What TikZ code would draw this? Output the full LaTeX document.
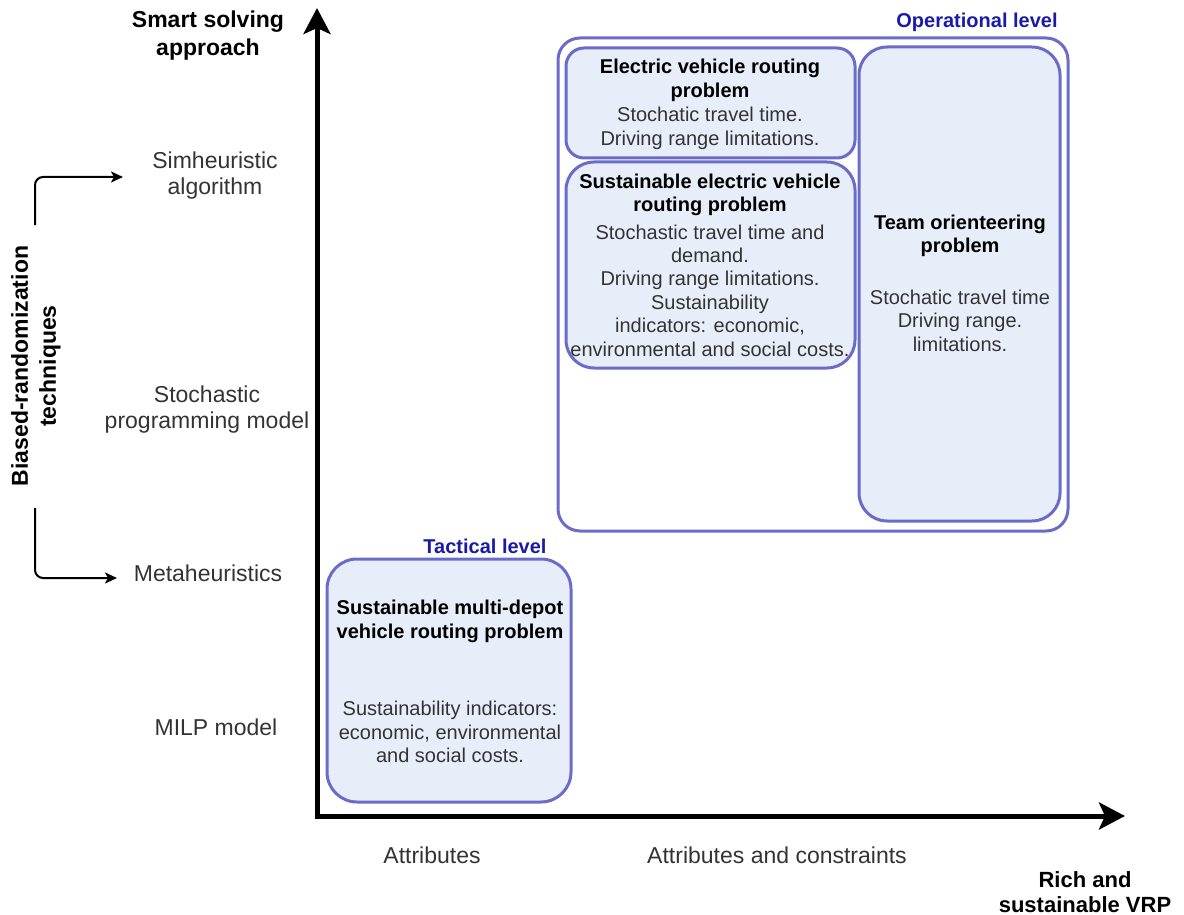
\documentclass[tikz,border=0pt]{standalone}
\usepackage{fontspec}
\setmainfont{Liberation Sans}
\usetikzlibrary{arrows.meta}
\definecolor{boxline}{HTML}{6B6BC8}
\definecolor{boxfill}{HTML}{E7EEFA}
\definecolor{levelblue}{HTML}{1A1AA8}
\definecolor{bodygray}{HTML}{333333}
\tikzset{
  probbox/.style={draw=boxline, line width=1.5pt, fill=boxfill, inner sep=0pt},
  groupbox/.style={draw=boxline, line width=1.5pt, fill=white, inner sep=0pt},
  ttl/.style={font=\fontsize{10pt}{11.7pt}\selectfont\bfseries, align=center, inner sep=0pt, text=black},
  body/.style={font=\fontsize{10pt}{11.7pt}\selectfont, align=center, inner sep=0pt, text=bodygray},
  axlabel/.style={font=\fontsize{11.5pt}{13pt}\selectfont, align=center, inner sep=0pt, text=bodygray},
  axtitle/.style={font=\fontsize{11.5pt}{14pt}\selectfont\bfseries, align=center, inner sep=0pt, text=black},
  level/.style={font=\fontsize{10pt}{12pt}\selectfont\bfseries, inner sep=0pt, text=levelblue},
  axis/.style={line width=2.5pt, {Stealth[length=13pt,width=13.5pt,inset=3pt]}-{Stealth[length=13pt,width=13.5pt,inset=3pt]}},
  bracket/.style={line width=1pt, rounded corners=4pt, -{Stealth[length=6pt,width=5.5pt,inset=1.5pt]}}
}
\begin{document}
\begin{tikzpicture}[x=0.5pt, y=-0.5pt]
\useasboundingbox (0,0) rectangle (1184,915);

% axes
\coordinate (ytip) at (317,8);
\coordinate (xtip) at (1125,816);
\draw[axis] (ytip) |- (xtip);

% operational level group
\node[groupbox, rounded corners=11pt, minimum width=255pt, minimum height=246.5pt] (oper) at (813,284.5) {};
\node[level, anchor=east] (operlbl) at (1058,22) {Operational level};

% electric vehicle routing problem
\node[probbox, rounded corners=9pt, minimum width=144.5pt, minimum height=55pt] (evrp) at (710.5,103) {};
\node[ttl] (evrpT) at (710,80.5) {Electric vehicle routing\\problem};
\node[body] (evrpB) at (710,128.5) {Stochatic travel time.\\Driving range limitations.};

% sustainable electric vehicle routing problem
\node[probbox, rounded corners=14pt, minimum width=144.5pt, minimum height=103pt] (sevrp) at (710.5,265) {};
\node[ttl] (sevrpT) at (710,195) {Sustainable electric vehicle\\routing problem};
\node[body] (sevrpB) at (710,290.5) {Stochastic travel time and\\demand.\\Driving range limitations.\\Sustainability\\indicators: economic,\\environmental and social costs.};

% team orienteering problem
\node[probbox, rounded corners=14pt, minimum width=100.5pt, minimum height=237pt] (top) at (959.5,284) {};
\node[ttl] (topT) at (960,236) {Team orienteering\\problem};
\node[body] (topB) at (960,320.5) {Stochatic travel time\\Driving range.\\limitations.};

% tactical level
\node[level] (taclbl) at (485,546) {Tactical level};
\node[probbox, rounded corners=15pt, minimum width=122pt, minimum height=121.5pt] (sm) at (449,680.5) {};
\node[ttl] (smT) at (450,621.5) {Sustainable multi-depot\\vehicle routing problem};
\node[body] (smB) at (450,732) {Sustainability indicators:\\economic, environmental\\and social costs.};

% vertical axis labels
\node[axtitle] (yttl) at (208,36) {Smart solving\\approach};
\node[axlabel] (simh) at (215,175.5) {Simheuristic\\algorithm};
\node[axlabel] (spm) at (207,410) {Stochastic\\programming model};
\node[axlabel] (meta) at (208,573) {Metaheuristics};
\node[axlabel] (milp) at (216,727) {MILP model};

% biased-randomization bracket
\node[axtitle, rotate=90] (brt) at (36,366) {Biased-randomization\\techniques};
\coordinate (bTop) at (35,225);
\coordinate (bTopEnd) at (123,177);
\coordinate (bBot) at (35,508);
\coordinate (bBotEnd) at (117,578);
\draw[bracket] (bTop) |- (bTopEnd);
\draw[bracket] (bBot) |- (bBotEnd);

% horizontal axis labels
\node[axlabel] (attr) at (432,855) {Attributes};
\node[axlabel] (attrc) at (777,855) {Attributes and constraints};
\node[axtitle, font=\fontsize{11pt}{12.5pt}\selectfont\bfseries] (xttl) at (1085,892) {Rich and\\sustainable VRP};
\end{tikzpicture}
\end{document}
